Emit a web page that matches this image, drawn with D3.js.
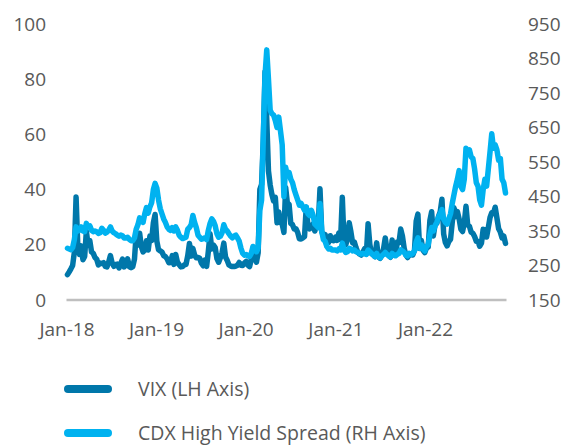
<!DOCTYPE html>
<html>
<head>
<meta charset="utf-8">
<script src="https://cdn.jsdelivr.net/npm/d3@7"></script>
<style>
  html, body { margin: 0; padding: 0; background: #ffffff; }
  svg { display: block; }
  text { font-family: "Open Sans", Lato, sans-serif; fill: #595959; }
</style>
</head>
<body>
<svg id="chart" width="564" height="446"></svg>
<script>
// ---- Data (weekly, Friday observations, Jan 2018 – Nov 2022) ----
const startDate = "2018-01-05";
const seriesNames = ["VIX (LH Axis)", "CDX High Yield Spread (RH Axis)"];

const vix2018 = [9.2,10.2,11.3,12.5,17.3,37.3,19.5,16.5,19.6,14.6,15.8,24.9,19.9,21.5,17.4,16.9,15.4,14.8,12.7,13.4,13.2,13.5,12.2,12.0,13.8,16.1,13.4,12.2,12.9,13.0,11.6,13.2,14.8,12.0,12.9,14.9,12.1,11.7,12.1,14.8,24.0,19.9,24.2,19.3,17.4,18.1,21.5,18.1,23.2,21.6,28.0,31.0];
const vix2019 = [21.4,18.2,17.8,17.4,16.1,15.7,14.9,13.5,13.6,16.1,12.9,16.5,13.7,12.8,12.0,12.1,12.7,12.9,16.0,20.5,15.9,18.7,16.3,15.3,15.4,15.1,13.3,12.4,14.5,12.2,17.6,24.0,18.5,19.9,19.0,15.0,13.7,15.3,17.2,20.6,15.6,14.3,12.7,12.3,12.1,12.1,12.3,12.6,13.6,12.6,12.5,13.4];
const vix2020 = [14.0,12.6,12.1,14.6,18.8,15.5,13.7,17.1,40.1,41.9,57.8,82.7,65.5,46.8,41.7,38.2,35.9,37.2,28.0,31.9,28.2,27.5,24.5,40.8,35.1,34.7,27.7,27.3,25.7,25.8,24.5,22.2,22.1,22.5,23.0,33.6,26.9,25.8,26.4,27.6,25.0,27.4,27.6,40.3,24.9,23.1,23.7,20.8,20.8,23.3,21.6,21.5];
const vix2021 = [22.8,21.6,24.3,21.9,37.2,20.9,20.0,22.1,28.0,24.7,20.7,21.0,18.9,17.3,16.7,16.3,17.3,18.6,16.7,27.6,20.2,16.8,16.4,15.7,20.7,15.6,15.1,16.2,18.5,22.5,18.2,16.2,15.5,21.7,16.4,16.4,21.0,20.8,25.7,23.1,18.8,16.3,15.4,16.3,16.5,16.3,17.9,28.6,31.1,18.7,21.6,18.0,17.2];
const vix2022 = [18.8,19.2,28.9,32.0,23.2,27.4,27.8,30.3,32.0,36.5,23.9,20.8,19.6,21.2,22.0,28.2,33.4,30.2,32.0,29.4,25.7,24.8,27.8,34.0,27.2,26.7,24.6,24.2,23.0,21.3,21.2,19.5,20.6,25.6,25.5,22.8,26.3,29.9,31.6,31.4,33.6,29.7,25.8,24.6,22.5,23.1,20.5];

const cdx2018 = [300,298,296,302,325,362,350,352,362,350,348,372,362,365,352,348,350,348,343,345,358,352,344,347,352,362,350,345,342,338,335,338,336,330,330,332,326,322,322,330,355,368,388,378,375,400,418,402,420,432,470,488];
const cdx2019 = [475,440,415,400,385,375,362,355,352,360,350,362,352,338,332,328,330,332,355,360,368,395,375,360,338,332,326,328,330,325,352,372,385,378,365,342,332,335,345,368,355,350,342,335,330,335,338,330,320,300,285,280];
const cdx2020 = [282,278,276,285,305,295,290,300,410,440,620,800,875,790,700,690,686,670,650,680,640,600,450,535,510,520,500,490,470,455,440,425,430,420,410,420,400,395,410,395,370,365,360,430,350,325,320,305,298,300,295,295];
const cdx2021 = [295,292,298,295,315,295,288,290,300,298,292,295,290,288,285,283,285,284,282,295,290,285,280,276,285,275,272,278,282,288,282,278,275,285,280,278,282,285,295,292,288,280,278,285,282,285,292,318,330,300,310,298,292];
const cdx2022 = [305,310,340,360,350,365,375,390,400,412,385,375,370,385,400,430,455,480,500,525,480,470,500,590,580,585,565,560,530,490,480,440,425,470,500,480,530,580,632,590,600,585,555,560,500,490,460];

const vixValues = [].concat(vix2018, vix2019, vix2020, vix2021, vix2022);
const cdxValues = [].concat(cdx2018, cdx2019, cdx2020, cdx2021, cdx2022);

const leftTicks = [0, 20, 40, 60, 80, 100];
const rightTicks = [150, 250, 350, 450, 550, 650, 750, 850, 950];
const xTickLabels = ["Jan-18", "Jan-19", "Jan-20", "Jan-21", "Jan-22"];

// ---- Build ----
const parse = d3.timeParse("%Y-%m-%d");
const t0 = parse(startDate);
const dates = vixValues.map((_, i) => d3.timeDay.offset(t0, 7 * i));
const rows = dates.map((d, i) => ({ date: d, vix: vixValues[i], cdx: cdxValues[i] }));

const svg = d3.select("#chart");
const colors = { vix: "#0077AA", cdx: "#00B2F0" };
const fontSize = 19;
const legendFontSize = 19.5;
const fontFamily = "'Open Sans', Lato, sans-serif";

const x = d3.scaleTime()
  .domain([new Date(2018, 0, 1), dates[dates.length - 1]])
  .range([66.5, 505.5]);
const yL = d3.scaleLinear().domain([0, 100]).range([300, 24]);
const yR = d3.scaleLinear().domain([150, 950]).range([300, 24]);

// baseline
svg.append("line")
  .attr("x1", x(dates[0]) - 1).attr("x2", x(dates[dates.length - 1]) + 1)
  .attr("y1", yL(0)).attr("y2", yL(0))
  .attr("stroke", "#bfbfbf").attr("stroke-width", 2.5);

function styleText(sel) {
  sel.selectAll("text").style("font-size", fontSize + "px").attr("fill", "#595959").style("font-family", fontFamily);
}

// axes
const leftAxis = d3.axisLeft(yL).tickValues(leftTicks).tickSize(0).tickPadding(6);
svg.append("g").attr("transform", "translate(52,0)").call(leftAxis)
  .call(g => g.select(".domain").remove()).call(styleText);

const rightAxis = d3.axisRight(yR).tickValues(rightTicks).tickSize(0).tickPadding(6);
svg.append("g").attr("transform", "translate(522,0)").call(rightAxis)
  .call(g => g.select(".domain").remove()).call(styleText);

const xTickDates = xTickLabels.map(s => d3.timeParse("%b-%y")(s));
const bottomAxis = d3.axisBottom(x).tickValues(xTickDates).tickFormat(d3.timeFormat("%b-%y")).tickSize(0).tickPadding(23);
svg.append("g").attr("transform", "translate(0,300)").call(bottomAxis)
  .call(g => g.select(".domain").remove()).call(styleText);

// lines
const lineVix = d3.line().x(d => x(d.date)).y(d => yL(d.vix));
const lineCdx = d3.line().x(d => x(d.date)).y(d => yR(d.cdx));

svg.append("path").datum(rows).attr("d", lineVix)
  .attr("fill", "none").attr("stroke", colors.vix).attr("stroke-width", 5.5)
  .attr("stroke-linejoin", "round").attr("stroke-linecap", "round");
svg.append("path").datum(rows).attr("d", lineCdx)
  .attr("fill", "none").attr("stroke", colors.cdx).attr("stroke-width", 5.5)
  .attr("stroke-linejoin", "round").attr("stroke-linecap", "round");

// legend
const legend = svg.append("g");
const legendItems = [
  { name: seriesNames[0], color: colors.vix, y: 389 },
  { name: seriesNames[1], color: colors.cdx, y: 433 }
];
legendItems.forEach(it => {
  legend.append("line").attr("x1", 68).attr("x2", 108).attr("y1", it.y).attr("y2", it.y)
    .attr("stroke", it.color).attr("stroke-width", 8).attr("stroke-linecap", "round");
  legend.append("text").attr("x", 138).attr("y", it.y).attr("dy", "0.35em")
    .style("font-size", legendFontSize + "px").style("font-family", fontFamily).text(it.name);
});
</script>
</body>
</html>
